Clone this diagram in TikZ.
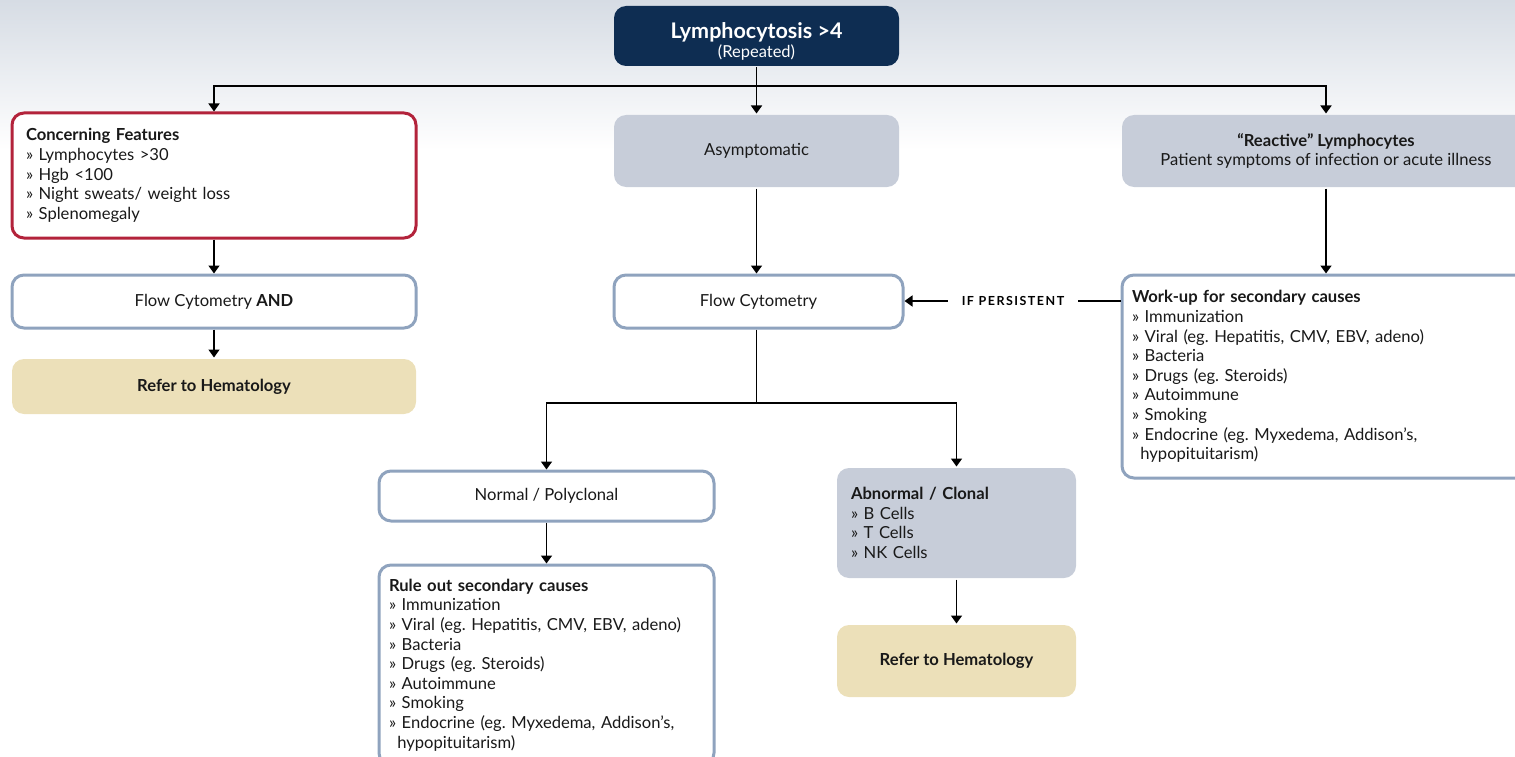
\documentclass[tikz,border=0pt]{standalone}
\usepackage{fontspec}
\setmainfont{Lato}
\usepackage{xcolor}
\usetikzlibrary{arrows.meta}
\frenchspacing

\definecolor{navy}{HTML}{0E2D52}
\definecolor{alarmred}{HTML}{B3233B}
\definecolor{steel}{HTML}{8FA3BE}
\definecolor{paleblue}{HTML}{C7CDD9}
\definecolor{sand}{HTML}{ECE0B9}
\definecolor{bgtop}{HTML}{D6DCE4}

\begin{document}
\begin{tikzpicture}[x=1pt, y=-1pt,
	box/.style={rectangle, rounded corners=12pt, line width=3pt, text=black!90,
		font=\fontsize{16.6}{19.6}\selectfont, inner xsep=12pt, inner ysep=4pt},
	arr/.style={line width=1.6pt, -{Triangle[width=11pt,length=8pt]}},
	link/.style={line width=1.6pt}]
	\tikzstyle{centred}=[box, align=center]
	\tikzstyle{listed}=[box, align=left]
	
	\clip (0,0) rectangle (1515,757);
	\fill[top color=bgtop, bottom color=white] (0,0) rectangle (1515,150);
	
	% top of the chart
	\node[centred, fill=navy, text=white, minimum width=285pt, minimum height=60pt] (lympho) at (756.5,36)
	{{\fontsize{21.5}{22}\selectfont\bfseries\rule{0pt}{27pt}Lymphocytosis >4}\\[0pt]{\fontsize{16.5}{18}\selectfont (Repeated)}};
	
	% three branches
	\node[listed, draw=alarmred, fill=white, inner xsep=14pt, text width=376pt, minimum height=125pt] (concern) at (214,175.5)
	{\textbf{Concerning Features}\\
		» Lymphocytes >30\\
		» Hgb <100\\
		» Night sweats/ weight loss\\
		» Splenomegaly};
	\node[centred, fill=paleblue, minimum width=285pt, minimum height=72pt] (asympt) at (756.5,151) {Asymptomatic};
	\node[centred, fill=paleblue, minimum width=408pt, minimum height=72pt] (reactive) at (1326,151)
	{\textbf{“Reactive” Lymphocytes}\\Patient symptoms of infection or acute illness};
	
	% second row
	\node[centred, draw=steel, fill=white, minimum width=404pt, minimum height=53pt] (flowleft) at (214,301.5) {Flow Cytometry \textbf{AND}};
	\node[centred, draw=steel, fill=white, minimum width=289pt, minimum height=53pt] (flowmid) at (758.5,301.5) {Flow Cytometry};
	\node[listed, draw=steel, fill=white, inner xsep=10pt, text width=388pt, minimum height=203pt] (workup) at (1326,376.5)
	{\textbf{Work-up for secondary causes}\\
		» Immunization\\
		» Viral (eg. Hepatitis, CMV, EBV, adeno)\\
		» Bacteria\\
		» Drugs (eg. Steroids)\\
		» Autoimmune\\
		» Smoking\\
		» Endocrine (eg. Myxedema, Addison’s,\\
		\hspace*{0.5em}hypopituitarism)};
	\node[centred, fill=sand, minimum width=404pt, minimum height=55pt, font=\fontsize{16.6}{19.6}\selectfont\bfseries] (referleft) at (214,386.5) {Refer to Hematology};
	\node[inner xsep=14pt, inner ysep=2pt, font=\fontsize{12.5}{14}\selectfont\bfseries\addfontfeatures{LetterSpace=12}] (persist) at (1013,301) {IF PERSISTENT};
	
	% below the middle flow
	\node[centred, draw=steel, fill=white, minimum width=335pt, minimum height=50pt] (normal) at (546.5,496) {Normal / Polyclonal};
	\node[listed, draw=steel, fill=white, inner xsep=10pt, text width=315pt, minimum height=200pt] (ruleout) at (546.5,665)
	{\textbf{Rule out secondary causes}\\
		» Immunization\\
		» Viral (eg. Hepatitis, CMV, EBV, adeno)\\
		» Bacteria\\
		» Drugs (eg. Steroids)\\
		» Autoimmune\\
		» Smoking\\
		» Endocrine (eg. Myxedema, Addison’s,\\
		\hspace*{0.5em}hypopituitarism)};
	\node[listed, fill=paleblue, inner xsep=14pt, text width=211pt, minimum height=110pt] (abnormal) at (956.5,523)
	{\textbf{Abnormal / Clonal}\\
		» B Cells\\
		» T Cells\\
		» NK Cells};
	\node[centred, fill=sand, minimum width=239pt, minimum height=72pt, font=\fontsize{16.6}{19.6}\selectfont\bfseries] (referright) at (956.5,661) {Refer to Hematology};
	
	% connectors
	\coordinate (forkTop) at (756.5,86);
	\coordinate (forkMid) at (756.5,403);
	\draw[arr] (lympho) -- (asympt);
	\draw[arr] (forkTop) -| (concern);
	\draw[arr] (forkTop) -| (reactive);
	\draw[arr] (concern) -- (flowleft);
	\draw[arr] (flowleft) -- (referleft);
	\draw[arr] (asympt) -- (asympt |- flowmid.north);
	\draw[arr] (reactive) -- (workup);
	\draw[link] (workup.west |- persist) -- (persist.east);
	\draw[arr] (persist.west) -- (flowmid.east |- persist);
	\draw[link] (flowmid.south -| forkMid) -- (forkMid);
	\draw[arr] (forkMid) -| (normal);
	\draw[arr] (forkMid) -| (abnormal);
	\draw[arr] (normal) -- (ruleout);
	\draw[arr] (abnormal) -- (referright);
\end{tikzpicture}
\end{document}
